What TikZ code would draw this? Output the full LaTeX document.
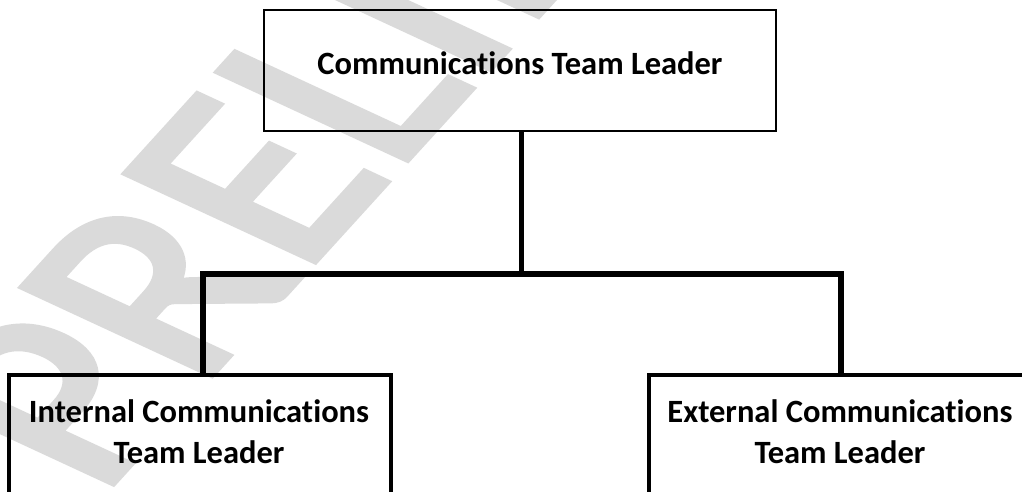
\documentclass[tikz,border=0pt]{standalone}
\usepackage{fontspec}
\setmainfont{Carlito}[Ligatures=NoCommon]
\newfontfamily\wmfont{Carlito}[FakeBold=2.5]
\definecolor{wmgray}{RGB}{218,218,218}
\begin{document}
\begin{tikzpicture}[x=1pt,y=-1pt,
  wm/.style={text=wmgray, font=\wmfont\fontsize{250}{250}\selectfont, inner sep=0pt},
  orgbox/.style={draw=black, line width=#1, rectangle, inner sep=0pt},
  lbl/.style={font=\fontsize{32.5}{41}\selectfont\bfseries, inner sep=0pt, align=center},
  conn/.style={draw=black, line width=#1, miter limit=10}]
\useasboundingbox (0,0) rectangle (1022,492);
\begin{scope}
\clip (0,0) rectangle (1022,492);
\begin{scope}[shift={(99,498)}, xscale=1.4]
\node[wm, transform shape, rotate=57, anchor=base west] (wm) at (0,0) {PRELIMINARY};
\end{scope}
% boxes
\node[orgbox=2.6pt, minimum width=512pt, minimum height=121pt] (top) at (520,70.5) {};
\node[lbl, anchor=base] (toptext) at (520,75) {Communications Team Leader};
\node[orgbox=4pt, minimum width=382pt, minimum height=250pt] (left) at (200,500) {};
\node[orgbox=4pt, minimum width=382pt, minimum height=250pt] (right) at (840,500) {};
\node[lbl, anchor=base] (lefttext) at (199,463) {Internal Communications\\Team Leader};
\node[lbl, anchor=base] (righttext) at (840,463) {External Communications\\Team Leader};
% connectors
\coordinate (j) at (521.5,273.7);
\coordinate (jl) at (203,273.7);
\coordinate (jr) at (841,273.7);
\draw[conn=4.5pt] (top.south -| j) -- (j);
\draw[conn=5.8pt] (left.north -| jl) -- (jl) -- (jr) -- (right.north -| jr);
\end{scope}
\end{tikzpicture}
\end{document}
